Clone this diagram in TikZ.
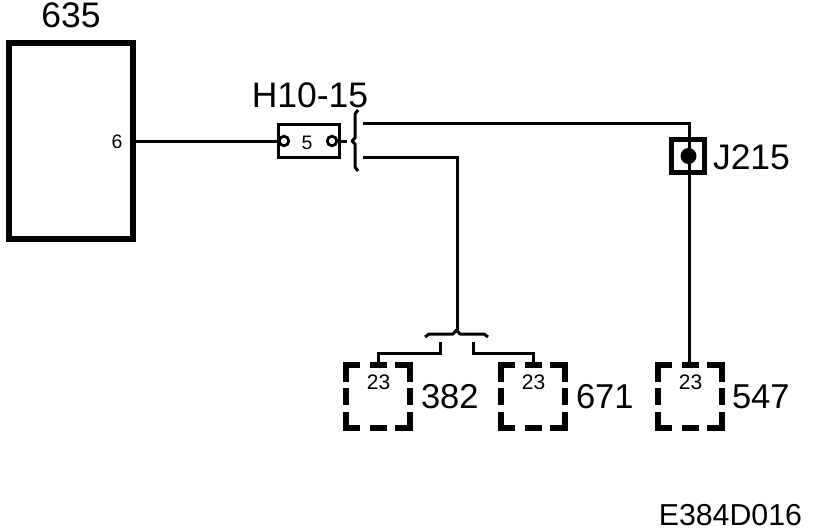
\documentclass[tikz,border=0pt]{standalone}
\usepackage{fontspec}
\setmainfont{Liberation Sans}
\newcommand{\fbig}{\fontsize{35.5}{38}\selectfont}
\newcommand{\fnum}{\fontsize{34.5}{37}\selectfont}
\newcommand{\fmid}{\fontsize{30.3}{33}\selectfont}
\newcommand{\fsmall}{\fontsize{21}{23}\selectfont}
\newcommand{\ftiny}{\fontsize{19.5}{21}\selectfont}
\tikzset{
  wire/.style={draw=black,line width=3pt},
  dashbox/.style={draw=black,line width=6pt,line cap=butt},
  lbl/.style={inner sep=0pt,outer sep=0pt,text=black},
  brace/.style={draw=black,line width=3pt,line join=round},
}
\newcommand{\dashedunit}[2]{% #1 name, #2 left outer x
  \begin{scope}[shift={(#2,362)}]
    \coordinate (#1-c) at (35,34);
    \draw[dashbox] (3,20) -- (3,3) -- (17,3);
    \draw[dashbox] (27,3) -- (44,3);
    \draw[dashbox] (52,3) -- (67,3) -- (67,20);
    \draw[dashbox] (3,26) -- (3,43);
    \draw[dashbox] (67,26) -- (67,43);
    \draw[dashbox] (3,50) -- (3,66) -- (17,66);
    \draw[dashbox] (27,66) -- (44,66);
    \draw[dashbox] (52,66) -- (67,66) -- (67,50);
    \node[lbl,font=\fsmall] (#1-pin) at (35.5,20.5) {23};
  \end{scope}
}
\begin{document}
\begin{tikzpicture}[x=1pt,y=-1pt]
\useasboundingbox (0,0) rectangle (816,532);
\fill[white] (0,0) rectangle (816,532);
% unit 635
\node[draw=black,line width=6pt,minimum width=124pt,minimum height=196pt,inner sep=0pt,outer sep=3pt,anchor=center] (u635) at (71,141) {};
\node[lbl,font=\fbig] (t635) at (71,15) {635};
\node[lbl,font=\ftiny] (p6) at (117,142) {6};
% connector H10-15
\node[draw=black,line width=3pt,minimum width=61pt,minimum height=33pt,inner sep=0pt,outer sep=1.5pt] (h10) at (309,141) {};
\node[lbl,font=\fbig] (th10) at (310,95) {H10-15};
\node[lbl,font=\ftiny] (p5) at (307,143) {5};
\node[draw=black,fill=white,circle,line width=2.8pt,minimum size=9.5pt,inner sep=0pt] (hl) at (284,141) {};
\node[draw=black,fill=white,circle,line width=2.8pt,minimum size=9.5pt,inner sep=0pt] (hr) at (332,141) {};
\draw[wire] (u635.east |- hl) -- (hl);
\coordinate (tick) at (347,141);
\draw[wire] (h10.east |- hr) -- (tick);
% vertical brace
\coordinate (bT) at (358,110);
\coordinate (bB) at (358,171);
\coordinate (bM) at (352,141);
\draw[brace] (bT) -- (355,114) -- (355,138) -- (bM) -- (355,144) -- (355,167) -- (bB);
% J215
\node[draw=black,line width=4.5pt,minimum width=33pt,minimum height=33pt,inner sep=0pt,outer sep=2.2pt] (j) at (688,156) {};
\node[circle,fill=black,minimum size=16pt,inner sep=0pt] (jd) at (688.5,156) {};
\node[lbl,font=\fbig,anchor=west] (tj) at (713,157) {J215};
% bottom units
\dashedunit{u382}{343}
\dashedunit{u671}{498}
\dashedunit{u547}{655}
\node[lbl,font=\fnum,anchor=west] (t382) at (421,397) {382};
\node[lbl,font=\fnum,anchor=west] (t671) at (576,397) {671};
\node[lbl,font=\fnum,anchor=west] (t547) at (732,397) {547};
% upper wire to J215 and on to 547
\coordinate (w1) at (363,123.5);
\coordinate (w2) at (689.5,123.5);
\coordinate (w3) at (689.5,362);
\draw[wire,line cap=butt] (w1) -- (w2) -- (w3);
% lower wire
\coordinate (l1) at (363,157);
\coordinate (l2) at (457,157);
\coordinate (l3) at (457,330);
\draw[wire] (l1) -- (l2) -- (l3);
% horizontal brace
\draw[brace] (425,337) -- (429,334) -- (453,334) -- (456.5,330) -- (460,334) -- (484,334) -- (488,337);
% branches
\coordinate (s1) at (440,342);
\coordinate (s2) at (378,362);
\coordinate (s3) at (473,342);
\coordinate (s4) at (533,362);
\draw[wire] (s1) |- (378,353) -- (s2);
\draw[wire] (s3) |- (533,353) -- (s4);
\node[lbl,font=\fmid,anchor=east] (code) at (802,515) {E384D016};
\end{tikzpicture}
\end{document}
